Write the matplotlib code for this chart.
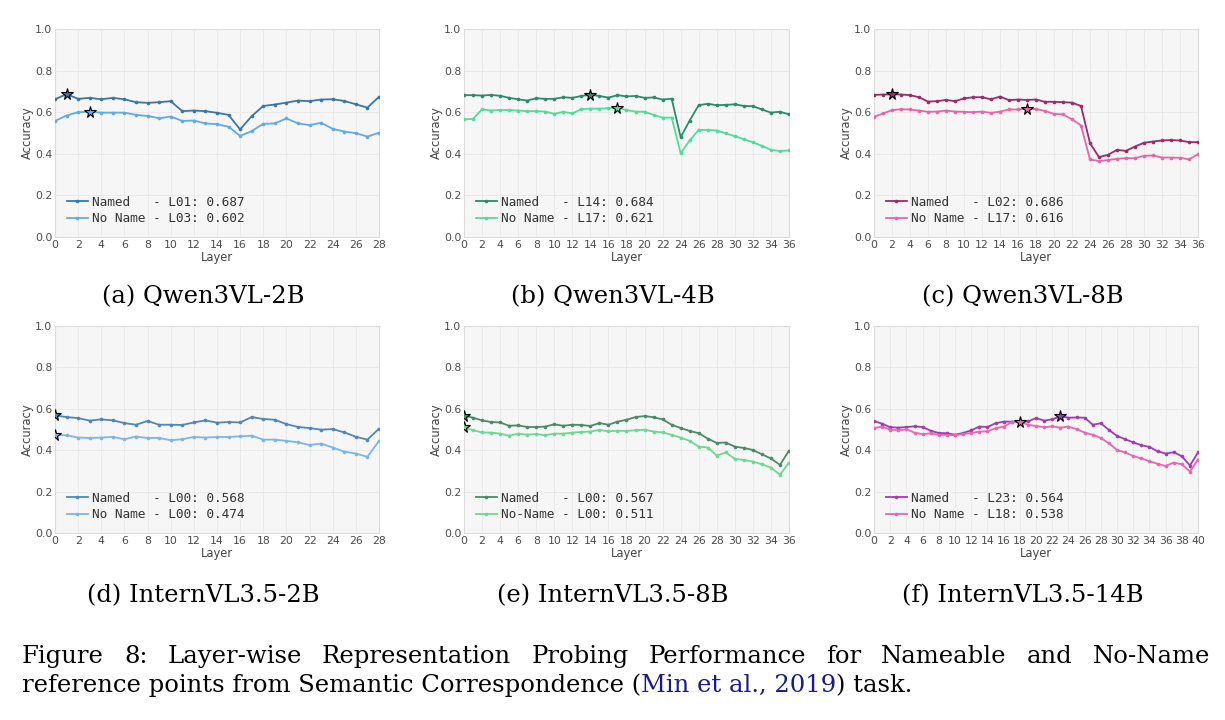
import matplotlib
matplotlib.use("Agg")
import matplotlib.pyplot as plt
import numpy as np

# ---------------- data ----------------
a_named = [0.662, 0.687, 0.664, 0.669, 0.662, 0.669, 0.662, 0.648, 0.645, 0.648, 0.653,
           0.605, 0.608, 0.605, 0.597, 0.587, 0.517, 0.581, 0.630, 0.637, 0.646, 0.656,
           0.653, 0.661, 0.662, 0.654, 0.638, 0.622, 0.674]
a_noname = [0.558, 0.584, 0.600, 0.602, 0.598, 0.598, 0.598, 0.587, 0.582, 0.571, 0.579,
            0.558, 0.560, 0.546, 0.542, 0.530, 0.486, 0.509, 0.544, 0.546, 0.570, 0.546,
            0.538, 0.549, 0.520, 0.507, 0.499, 0.483, 0.501]

b_named = [0.682, 0.682, 0.680, 0.683, 0.679, 0.669, 0.662, 0.656, 0.667, 0.664, 0.664,
           0.672, 0.669, 0.678, 0.684, 0.678, 0.670, 0.682, 0.676, 0.678, 0.669, 0.671,
           0.661, 0.665, 0.480, 0.560, 0.634, 0.640, 0.634, 0.635, 0.638, 0.630, 0.629,
           0.613, 0.598, 0.602, 0.590]
b_noname = [0.565, 0.568, 0.614, 0.608, 0.611, 0.610, 0.608, 0.605, 0.605, 0.603, 0.592,
            0.602, 0.594, 0.615, 0.617, 0.617, 0.619, 0.621, 0.610, 0.603, 0.602, 0.587,
            0.574, 0.574, 0.403, 0.464, 0.515, 0.515, 0.512, 0.498, 0.485, 0.470, 0.456,
            0.438, 0.419, 0.413, 0.416]

c_named = [0.683, 0.685, 0.686, 0.685, 0.682, 0.672, 0.651, 0.653, 0.659, 0.653, 0.666,
           0.672, 0.672, 0.662, 0.675, 0.658, 0.661, 0.659, 0.661, 0.650, 0.650, 0.648,
           0.646, 0.630, 0.451, 0.384, 0.395, 0.419, 0.414, 0.435, 0.453, 0.459, 0.464,
           0.466, 0.464, 0.456, 0.456]
c_noname = [0.578, 0.594, 0.610, 0.614, 0.613, 0.608, 0.602, 0.603, 0.608, 0.603, 0.602,
            0.600, 0.603, 0.597, 0.603, 0.613, 0.613, 0.616, 0.615, 0.606, 0.592, 0.589,
            0.566, 0.536, 0.373, 0.365, 0.370, 0.376, 0.379, 0.379, 0.390, 0.392, 0.382,
            0.382, 0.381, 0.373, 0.398]

d_named = [0.568, 0.560, 0.555, 0.543, 0.549, 0.544, 0.531, 0.523, 0.541, 0.523, 0.523,
           0.522, 0.534, 0.544, 0.533, 0.536, 0.534, 0.560, 0.551, 0.547, 0.526, 0.512,
           0.507, 0.499, 0.502, 0.486, 0.465, 0.451, 0.504]
d_noname = [0.474, 0.472, 0.461, 0.459, 0.461, 0.464, 0.453, 0.466, 0.459, 0.459, 0.448,
            0.453, 0.464, 0.461, 0.464, 0.464, 0.467, 0.470, 0.451, 0.451, 0.445, 0.438,
            0.425, 0.432, 0.413, 0.393, 0.384, 0.368, 0.445]

e_named = [0.567, 0.557, 0.544, 0.536, 0.534, 0.518, 0.520, 0.512, 0.512, 0.514, 0.525,
           0.518, 0.523, 0.522, 0.517, 0.531, 0.523, 0.538, 0.547, 0.560, 0.565, 0.559,
           0.549, 0.523, 0.507, 0.493, 0.482, 0.456, 0.435, 0.437, 0.417, 0.411, 0.401,
           0.380, 0.360, 0.329, 0.398]
e_noname = [0.511, 0.496, 0.486, 0.485, 0.480, 0.470, 0.480, 0.475, 0.478, 0.472, 0.480,
            0.480, 0.485, 0.488, 0.490, 0.498, 0.491, 0.494, 0.493, 0.496, 0.499, 0.490,
            0.486, 0.474, 0.461, 0.445, 0.417, 0.413, 0.374, 0.389, 0.358, 0.353, 0.345,
            0.332, 0.316, 0.281, 0.340]

f_named = [0.541, 0.528, 0.511, 0.509, 0.512, 0.515, 0.512, 0.494, 0.483, 0.482, 0.475,
           0.483, 0.496, 0.514, 0.512, 0.530, 0.538, 0.538, 0.538, 0.539, 0.555, 0.543,
           0.549, 0.564, 0.557, 0.558, 0.557, 0.523, 0.530, 0.498, 0.469, 0.453, 0.438,
           0.424, 0.416, 0.395, 0.384, 0.390, 0.371, 0.326, 0.389]
f_noname = [0.507, 0.514, 0.499, 0.496, 0.501, 0.485, 0.477, 0.482, 0.474, 0.474, 0.472,
            0.478, 0.483, 0.490, 0.491, 0.506, 0.514, 0.535, 0.538, 0.523, 0.517, 0.511,
            0.515, 0.509, 0.514, 0.502, 0.485, 0.475, 0.459, 0.433, 0.401, 0.389, 0.372,
            0.360, 0.347, 0.334, 0.324, 0.340, 0.332, 0.297, 0.355]

subcaptions = ["(a) Qwen3VL-2B", "(b) Qwen3VL-4B", "(c) Qwen3VL-8B",
               "(d) InternVL3.5-2B", "(e) InternVL3.5-8B", "(f) InternVL3.5-14B"]
second_names = ["No Name", "No Name", "No Name", "No Name", "No-Name", "No Name"]
named_colors = ["#3b77a6", "#2f8a69", "#9c2b66", "#5087b5", "#4d8a68", "#a23bb0"]
noname_colors = ["#62aae6", "#52dc9c", "#e866a8", "#7cb5e6", "#6cd892", "#e868b0"]

caption_line1 = "Figure 8: Layer-wise Representation Probing Performance for Nameable and No-Name"
caption_line2 = [("reference points from Semantic Correspondence (", "black"),
                 ("Min et al., 2019", "#1a1a8a"),
                 (") task.", "black")]

panels = [(a_named, a_noname), (b_named, b_noname), (c_named, c_noname),
          (d_named, d_noname), (e_named, e_noname), (f_named, f_noname)]

# ---------------- figure ----------------
fig = plt.figure(figsize=(12.25, 7.2), dpi=100)
W, H = 1225, 720
col_lr = [(55, 379), (464, 789), (874, 1198)]
row_tb = [(29, 237), (326, 533)]

for i, (named, noname) in enumerate(panels):
    r, c = divmod(i, 3)
    l, rr = col_lr[c]
    t, b = row_tb[r]
    ax = fig.add_axes([l / W, 1 - b / H, (rr - l) / W, (b - t) / H])
    ax.set_facecolor("#f6f6f6")
    n = len(named)
    x = np.arange(n)
    bn = int(np.argmax(named))
    bu = int(np.argmax(noname))
    lab1 = f"Named   - L{bn:02d}: {named[bn]:.3f}"
    lab2 = f"{second_names[i]:<8s}- L{bu:02d}: {noname[bu]:.3f}"
    ax.plot(x, named, color=named_colors[i], lw=1.3, marker="o", ms=1.6, label=lab1, zorder=3)
    ax.plot(x, noname, color=noname_colors[i], lw=1.3, marker="o", ms=1.6, label=lab2, zorder=3)
    ax.plot([bn], [named[bn]], marker="*", ms=8.5, color=named_colors[i],
            markeredgecolor="black", markeredgewidth=0.8, zorder=4)
    ax.plot([bu], [noname[bu]], marker="*", ms=8.5, color=noname_colors[i],
            markeredgecolor="black", markeredgewidth=0.8, zorder=4)
    ax.set_xlim(0, n - 1)
    ax.set_ylim(0, 1.0)
    ax.set_xticks(np.arange(0, n, 2))
    ax.set_yticks(np.arange(0, 1.01, 0.2))
    ax.set_yticklabels([f"{v:.1f}" for v in np.arange(0, 1.01, 0.2)])
    ax.grid(True, color="#e8e8e8", lw=0.6, zorder=0)
    ax.set_axisbelow(True)
    for s in ax.spines.values():
        s.set_color("#dcdcdc")
        s.set_linewidth(0.8)
    ax.tick_params(length=0, labelsize=7.8, labelcolor="#4a4a4a", pad=2)
    ax.set_xlabel("Layer", fontsize=8.3, color="#444444", labelpad=1)
    ax.set_ylabel("Accuracy", fontsize=8.3, color="#444444", labelpad=0.5)
    leg = ax.legend(loc="lower left", bbox_to_anchor=(0, 0), borderaxespad=0,
                    borderpad=0.9, labelspacing=0.3, handlelength=1.7, handletextpad=0.3,
                    frameon=False, prop={"family": "DejaVu Sans Mono", "size": 9.2})
    for txt in leg.get_texts():
        txt.set_color("#333333")

# sub-captions
cap_font = {"family": "DejaVu Serif", "size": 17.5}
sub_x = [203, 613, 1023]
sub_y = [303, 602]
for i, s in enumerate(subcaptions):
    r, c = divmod(i, 3)
    fig.text(sub_x[c] / W, 1 - sub_y[r] / H, s, ha="center", va="baseline",
             color="black", **cap_font)

# caption (first line justified between x=22 and x=1210)
fig.canvas.draw()
renderer = fig.canvas.get_renderer()
words = caption_line1.split(" ")
word_texts = []
total = 0.0
for wd in words:
    t = fig.text(0, 1 - 663 / H, wd, ha="left", va="baseline", color="black", **cap_font)
    wbb = t.get_window_extent(renderer=renderer)
    word_texts.append((t, wbb.width))
    total += wbb.width
left, right = 22, 1210
gap = (right - left - total) / (len(words) - 1)
xpos = left
for t, wdt in word_texts:
    t.set_x(xpos / W)
    xpos += wdt + gap

xpos = 22
for txt, col in caption_line2:
    t = fig.text(xpos / W, 1 - 692 / H, txt, ha="left", va="baseline", color=col, **cap_font)
    bb = t.get_window_extent(renderer=renderer)
    xpos += bb.width

fig.savefig("out.png", dpi=100)
